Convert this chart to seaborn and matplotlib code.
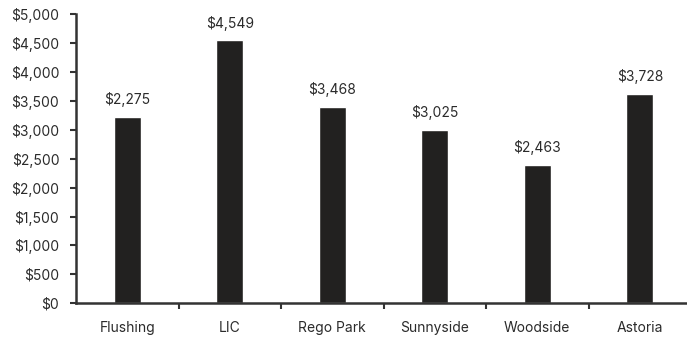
import matplotlib
matplotlib.use("Agg")
import matplotlib.pyplot as plt
import seaborn as sns
import pandas as pd
from matplotlib.ticker import FuncFormatter, FixedLocator

# data
neighborhoods = ["Flushing", "LIC", "Rego Park", "Sunnyside", "Woodside", "Astoria"]
bar_values = [3225, 4545, 3400, 3000, 2395, 3620]
bar_labels = ["$2,275", "$4,549", "$3,468", "$3,025", "$2,463", "$3,728"]
y_ticks = [0, 500, 1000, 1500, 2000, 2500, 3000, 3500, 4000, 4500, 5000]

df = pd.DataFrame({"area": neighborhoods, "rent": bar_values})

sns.set_style("white")
plt.rcParams["font.family"] = ["Inter", "DejaVu Sans"]
text_color = "#2b2b2b"
fs = 10

fig = plt.figure(figsize=(6.87, 3.37), dpi=100)
ax = fig.add_axes([76 / 687, 33.7 / 337, 615 / 687, 289.3 / 337])

sns.barplot(data=df, x="area", y="rent", color="#222120", width=0.26,
            saturation=1, ax=ax)

for i, (v, lab) in enumerate(zip(bar_values, bar_labels)):
    ax.annotate(lab, (i, v), xytext=(0, 7), textcoords="offset points",
                ha="center", va="bottom", fontsize=fs, color=text_color)

ax.set_ylim(0, 5000)
ax.set_xlim(-0.5, len(neighborhoods) - 0.5)
ax.set_yticks(y_ticks)
ax.yaxis.set_major_formatter(FuncFormatter(lambda v, p: f"${int(v):,}"))
ax.xaxis.set_minor_locator(FixedLocator([i + 0.5 for i in range(len(neighborhoods) - 1)]))

ax.set_xlabel("")
ax.set_ylabel("")
sns.despine(ax=ax)
for side in ["left", "bottom"]:
    ax.spines[side].set_color("#333333")
    ax.spines[side].set_linewidth(1.8)

ax.tick_params(axis="y", which="major", direction="out", length=4, width=1.5,
               color="#333333", pad=8, labelsize=fs, labelcolor=text_color, left=True)
ax.tick_params(axis="x", which="major", length=0, pad=13, labelsize=fs,
               labelcolor=text_color)
ax.tick_params(axis="x", which="minor", direction="out", length=4, width=1.5,
               color="#333333", bottom=True)

fig.savefig("out.png", dpi=100)
